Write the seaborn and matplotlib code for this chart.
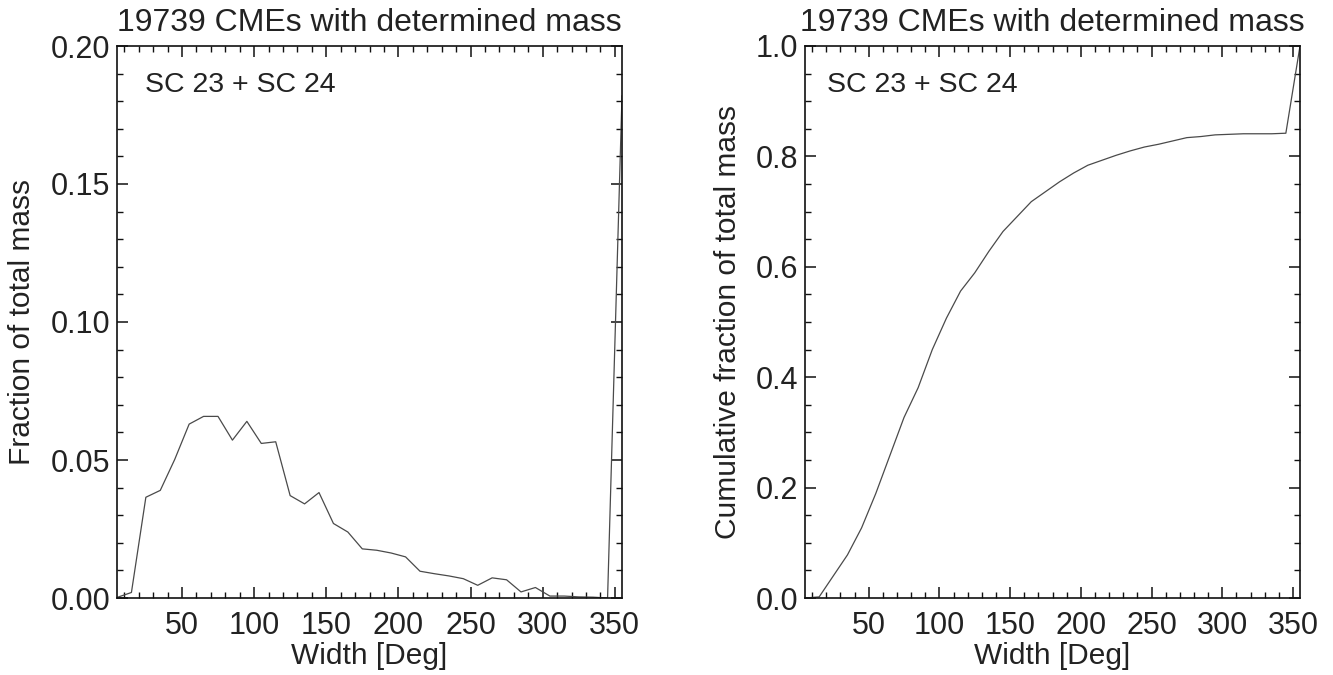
import numpy as np
import pandas as pd
import matplotlib
matplotlib.use("Agg")
import matplotlib.pyplot as plt
import seaborn as sns
from matplotlib.ticker import MultipleLocator

# ---- data ----
width_deg = [5, 15, 25, 35, 45, 55, 65, 75, 85, 95, 105, 115, 125, 135, 145, 155,
             165, 175, 185, 195, 205, 215, 225, 235, 245, 255, 265, 275, 285, 295,
             305, 315, 325, 335, 345, 355]
mass_fraction = [0.0002, 0.0020, 0.0365, 0.0390, 0.0502, 0.0630, 0.0658, 0.0658,
                 0.0572, 0.0640, 0.0560, 0.0566, 0.0371, 0.0341, 0.0382, 0.0270,
                 0.0239, 0.0178, 0.0173, 0.0163, 0.0149, 0.0097, 0.0088, 0.0080,
                 0.0070, 0.0046, 0.0073, 0.0066, 0.0022, 0.0038, 0.0007, 0.0007,
                 0.0004, 0.0003, 0.0000, 0.1820]
cum_fraction = [0.000, 0.002, 0.040, 0.078, 0.127, 0.189, 0.258, 0.327, 0.381,
                0.450, 0.507, 0.556, 0.589, 0.628, 0.664, 0.691, 0.718, 0.736,
                0.754, 0.770, 0.784, 0.793, 0.802, 0.810, 0.817, 0.822, 0.828,
                0.834, 0.836, 0.839, 0.840, 0.841, 0.841, 0.841, 0.842, 1.000]

title_text = "19739 CMEs with determined mass"
label_text = "SC 23 + SC 24"
xlabel_text = "Width [Deg]"
ylabel_left = "Fraction of total mass"
ylabel_right = "Cumulative fraction of total mass"

sns.set_theme(style="ticks")
plt.rcParams['font.family'] = ['Liberation Sans', 'DejaVu Sans']
plt.rcParams['axes.linewidth'] = 1.2
plt.rcParams['axes.edgecolor'] = '#111111'

df = pd.DataFrame({"width": width_deg, "frac": mass_fraction, "cum": cum_fraction})

fig = plt.figure(figsize=(13.33, 6.75), dpi=100)
H = 675.0
W = 1333.0
top_px, bot_px = 46, 598
ax1 = fig.add_axes([117 / W, 1 - bot_px / H, (622 - 117) / W, (bot_px - top_px) / H])
ax2 = fig.add_axes([805 / W, 1 - bot_px / H, (1300 - 805) / W, (bot_px - top_px) / H])

line_kw = dict(color='#4a4a4a', linewidth=0.9)
sns.lineplot(data=df, x="width", y="frac", ax=ax1, **line_kw)
sns.lineplot(data=df, x="width", y="cum", ax=ax2, **line_kw)

for ax, ylab, ylim, ymaj, ymin, fmt in [
        (ax1, ylabel_left, (0, 0.2), 0.05, 0.01, "{:.2f}"),
        (ax2, ylabel_right, (0, 1.0), 0.2, 0.05, "{:.1f}")]:
    ax.set_xlim(5, 355)
    ax.set_ylim(*ylim)
    ax.xaxis.set_major_locator(MultipleLocator(50))
    ax.xaxis.set_minor_locator(MultipleLocator(10))
    ax.yaxis.set_major_locator(MultipleLocator(ymaj))
    ax.yaxis.set_minor_locator(MultipleLocator(ymin))
    ax.yaxis.set_major_formatter(matplotlib.ticker.FuncFormatter(lambda v, p, f=fmt: f.format(v)))
    ax.tick_params(which='both', direction='in', top=True, right=True,
                   colors='#111111', labelcolor='#222222')
    ax.tick_params(which='major', length=8, width=1.1, labelsize=22)
    ax.tick_params(axis='x', which='major', pad=9)
    ax.tick_params(axis='y', which='major', pad=5)
    ax.tick_params(which='minor', length=4.5, width=1.0)
    ax.set_xlabel(xlabel_text, fontsize=21.5, color='#222222', labelpad=1)
    ax.set_ylabel(ylab, fontsize=21.5, color='#222222', labelpad=10)
    ax.set_title(title_text, fontsize=23, color='#222222', pad=11)
    for s in ax.spines.values():
        s.set_visible(True)
    ax.set_facecolor('white')

ax1.text(0.055, 0.93, label_text, transform=ax1.transAxes, fontsize=20.5,
         color='#222222', va='center', ha='left')
ax2.text(0.044, 0.93, label_text, transform=ax2.transAxes, fontsize=20.5,
         color='#222222', va='center', ha='left')

fig.savefig("out.png", dpi=100, facecolor='white')
